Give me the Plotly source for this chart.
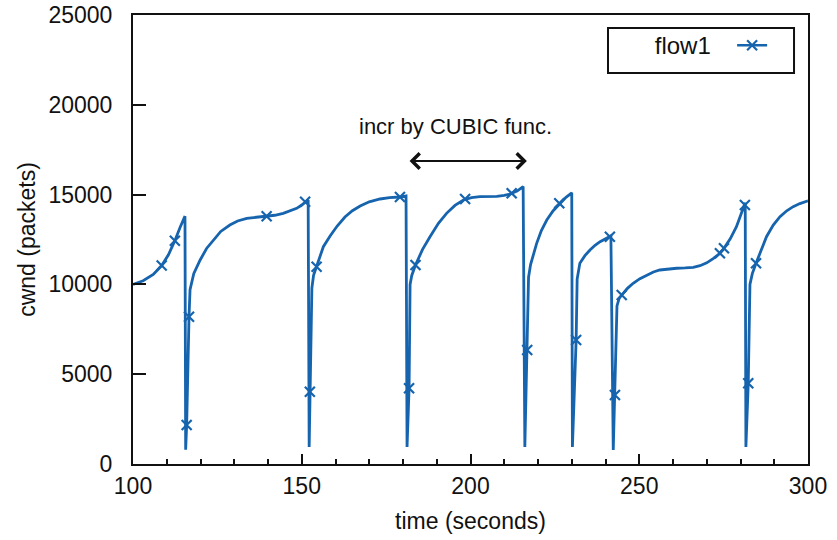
import plotly.graph_objects as go

# cwnd curve (time in seconds, cwnd in packets)
cwnd_time = [100.0, 103.0, 106.0, 108.5, 110.5, 112.4, 114.0, 115.4,
             115.6, 115.9, 116.6, 116.9, 118.0, 119.9, 121.8, 123.8, 126.0, 128.7, 131.0, 133.7,
             136.5, 139.6, 142.0, 144.5, 146.5, 148.5, 150.0, 151.9,
             152.2, 152.5, 153.0, 153.5, 154.4, 156.4, 158.4, 160.5, 162.8, 165.0, 167.3, 170.0,
             173.2, 176.0, 179.1, 180.9,
             181.2, 181.8, 182.1, 182.6, 183.7, 185.8, 188.0, 190.5, 192.9, 195.4, 197.9, 200.3,
             202.8, 205.3, 207.8, 210.0, 211.7, 213.8, 215.6,
             216.1, 216.8, 217.2, 217.8, 219.6, 221.0, 222.6, 224.5, 226.5, 228.3, 230.0,
             230.2, 231.3, 231.6, 232.4, 233.9, 235.4, 236.9, 238.4, 240.0, 241.6,
             242.3, 242.8, 243.4, 244.0, 244.8, 246.5, 248.2, 250.2, 252.2, 254.2, 256.1, 258.6,
             261.1, 263.6, 266.0, 268.0, 270.0, 272.0, 273.9, 275.1, 277.0, 278.8, 280.2, 281.4,
             281.6, 282.3, 282.8, 283.5, 284.6, 286.2, 287.7, 289.7, 291.7, 293.7, 295.6, 297.6, 300.0]
cwnd_value = [10000, 10200, 10550, 11050, 11650, 12435, 13200, 13800,
              800, 2171, 8203, 9700, 10600, 11359, 12000, 12472, 12950, 13308, 13530, 13679,
              13750, 13790, 13850, 13957, 14080, 14235, 14420, 14700,
              950, 4027, 9800, 10500, 10986, 12100, 12700, 13250, 13750, 14100, 14365, 14600,
              14755, 14830, 14866, 14922,
              950, 4213, 10000, 10500, 11080, 11950, 12657, 13400, 13957, 14400, 14700, 14830,
              14885, 14895, 14900, 14960, 15034, 15200, 15450,
              950, 6347, 10400, 11100, 12286, 13000, 13586, 14100, 14514, 14850, 15100,
              950, 6904, 10300, 11174, 11600, 11916, 12180, 12378, 12550, 12700,
              780, 3842, 8800, 9200, 9410, 9780, 10061, 10320, 10524, 10690, 10802, 10870,
              10900, 10915, 10950, 11040, 11200, 11450, 11731, 12010, 12550, 13214, 13900, 14550,
              950, 4492, 10000, 10600, 11174, 12000, 12657, 13300, 13771, 14100, 14327, 14500, 14650]

# point markers (x) drawn along the curve
marker_time = [108.5, 112.4, 115.9, 116.6, 139.6, 151.0, 152.4, 154.4, 179.1, 181.8, 183.7,
               198.4, 212.2, 216.8, 226.3, 231.3, 241.3, 242.8, 244.8, 273.9, 275.1, 281.3,
               282.3, 284.6]
marker_value = [11050, 12435, 2171, 8203, 13790, 14606, 4027, 10986, 14866, 4213, 11080,
                14760, 15070, 6347, 14514, 6904, 12657, 3842, 9410, 11731, 12010, 14420,
                4492, 11174]

series_name = "flow1"
x_ticks = [100, 150, 200, 250, 300]
y_ticks = [0, 5000, 10000, 15000, 20000, 25000]
note_text = "incr by CUBIC func."
arrow_from = (181.5, 16870)
arrow_to = (216.7, 16870)
note_pos = (195.7, 18800)

blue = "#1764ae"
ink = "#111111"
font_family = "Liberation Sans, Arial, sans-serif"

fig = go.Figure()
fig.add_trace(go.Scatter(x=cwnd_time, y=cwnd_value, mode="lines",
                         line=dict(color=blue, width=2.8), showlegend=False))
fig.add_trace(go.Scatter(x=marker_time, y=marker_value, mode="markers",
                         marker=dict(symbol="x-thin", size=10,
                                     line=dict(color=blue, width=2.2)),
                         showlegend=False))
fig.add_trace(go.Scatter(x=[None], y=[None], mode="lines+markers", name="",
                         line=dict(color=blue, width=2.6),
                         marker=dict(symbol="x-thin", size=10,
                                     line=dict(color=blue, width=2.2)),
                         showlegend=True))

fig.add_annotation(x=arrow_to[0], y=arrow_to[1], ax=arrow_from[0], ay=arrow_from[1],
                   xref="x", yref="y", axref="x", ayref="y", text="",
                   showarrow=True, arrowhead=4, startarrowhead=4, arrowside="end+start",
                   arrowsize=1.5, startarrowsize=1.5, arrowwidth=2, arrowcolor=ink)
fig.add_annotation(x=note_pos[0], y=note_pos[1], xref="x", yref="y", text=note_text,
                   showarrow=False, font=dict(size=22, color=ink, family=font_family))

# legend frame
fig.add_shape(type="rect", xref="paper", yref="paper",
              x0=0.7037, x1=0.9793, y0=0.8708, y1=0.971,
              line=dict(color=ink, width=2), fillcolor="rgba(0,0,0,0)", layer="above")

axis_common = dict(showline=True, linewidth=2, linecolor=ink, mirror=True, automargin=False,
                   showgrid=False, zeroline=False, ticks="inside", tickcolor=ink,
                   tickwidth=1.5, tickfont=dict(size=23, color=ink, family=font_family))

fig.update_xaxes(range=[100, 300], tickvals=x_ticks, ticklen=10,
                 minor=dict(dtick=10, ticks="inside", ticklen=5, tickcolor=ink, tickwidth=1.5),
                 title=dict(text="time (seconds)", standoff=15,
                            font=dict(size=23, color=ink, family=font_family)),
                 **axis_common)
fig.update_yaxes(range=[0, 25000], tickvals=y_ticks, ticktext=[str(v) for v in y_ticks],
                 ticklen=13, ticklabelstandoff=14,
                 title=dict(text="cwnd (packets)", standoff=6,
                            font=dict(size=23, color=ink, family=font_family)),
                 **axis_common)

fig.update_layout(
    width=837, height=540,
    margin=dict(l=133, r=29, t=15, b=76, autoexpand=False),
    plot_bgcolor="white", paper_bgcolor="white",
    font=dict(family=font_family, color=ink),
    legend=dict(x=0.770, y=0.982, xanchor="left", yanchor="top",
                borderwidth=0, bgcolor="rgba(0,0,0,0)",
                font=dict(size=24, family=font_family, color=ink),
                title=dict(text=series_name + "\u00a0\u00a0", side="left",
                           font=dict(size=24, family=font_family, color=ink))),
)

fig.write_html("out.html")
